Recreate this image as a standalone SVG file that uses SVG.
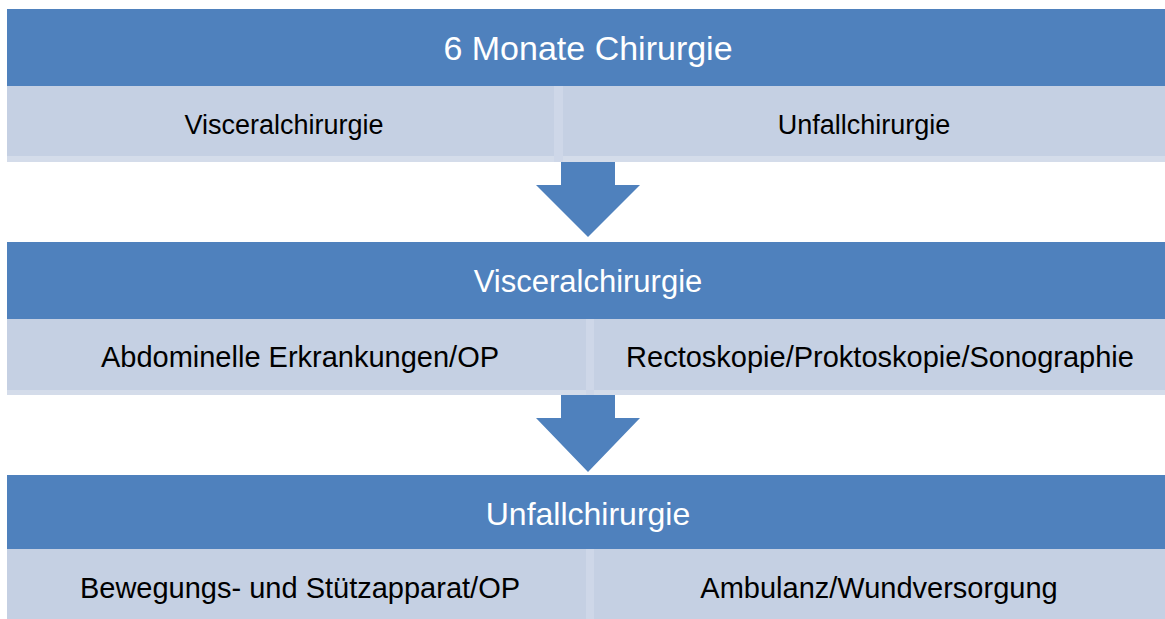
<svg xmlns="http://www.w3.org/2000/svg" width="1165" height="619" viewBox="0 0 1165 619">
<style>
.hd{fill:#4f81bd}
.sub{fill:#c5d0e3}
.strip{fill:#d4dcea}
.div{fill:#ced7e8}
.arrow{fill:#4f81bd}
text{font-family:"Liberation Sans",Arial,sans-serif;text-anchor:middle}
.ht{fill:#ffffff}
.st{fill:#000000}
</style>
<g id="block1">
<rect class="hd" x="7" y="9" width="1158" height="77"/>
<rect class="strip" x="7" y="156" width="1158" height="6"/>
<rect class="sub" x="7" y="86" width="547" height="70"/>
<rect class="div" x="554" y="86" width="9" height="76"/>
<rect class="sub" x="563" y="86" width="602" height="70"/>
<text class="ht" x="588" y="60" font-size="34">6 Monate Chirurgie</text>
<text class="st" x="284" y="134" font-size="27">Visceralchirurgie</text>
<text class="st" x="864" y="134" font-size="27">Unfallchirurgie</text>
</g>
<g id="block2">
<rect class="hd" x="7" y="242" width="1158" height="77"/>
<rect class="strip" x="7" y="390" width="1158" height="5"/>
<rect class="sub" x="7" y="319" width="579" height="71"/>
<rect class="div" x="586" y="319" width="8" height="76"/>
<rect class="sub" x="594" y="319" width="571" height="71"/>
<text class="ht" x="588" y="292" font-size="31">Visceralchirurgie</text>
<text class="st" x="300" y="367" font-size="29">Abdominelle Erkrankungen/OP</text>
<text class="st" x="880" y="367" font-size="29">Rectoskopie/Proktoskopie/Sonographie</text>
</g>
<g id="block3">
<rect class="hd" x="7" y="475" width="1158" height="74"/>
<rect class="sub" x="7" y="549" width="579" height="70"/>
<rect class="div" x="586" y="549" width="8" height="70"/>
<rect class="sub" x="594" y="549" width="571" height="70"/>
<text class="ht" x="588" y="525" font-size="32">Unfallchirurgie</text>
<text class="st" x="300" y="598" font-size="29">Bewegungs- und Stützapparat/OP</text>
<text class="st" x="879" y="598" font-size="29">Ambulanz/Wundversorgung</text>
</g>
<g id="connectors">
<polygon class="arrow" points="561,162 615,162 615,185 640,185 588,237 536,185 561,185"/>
<polygon class="arrow" points="561,395 615,395 615,418 640,418 588,472 536,418 561,418"/>
</g>
</svg>
